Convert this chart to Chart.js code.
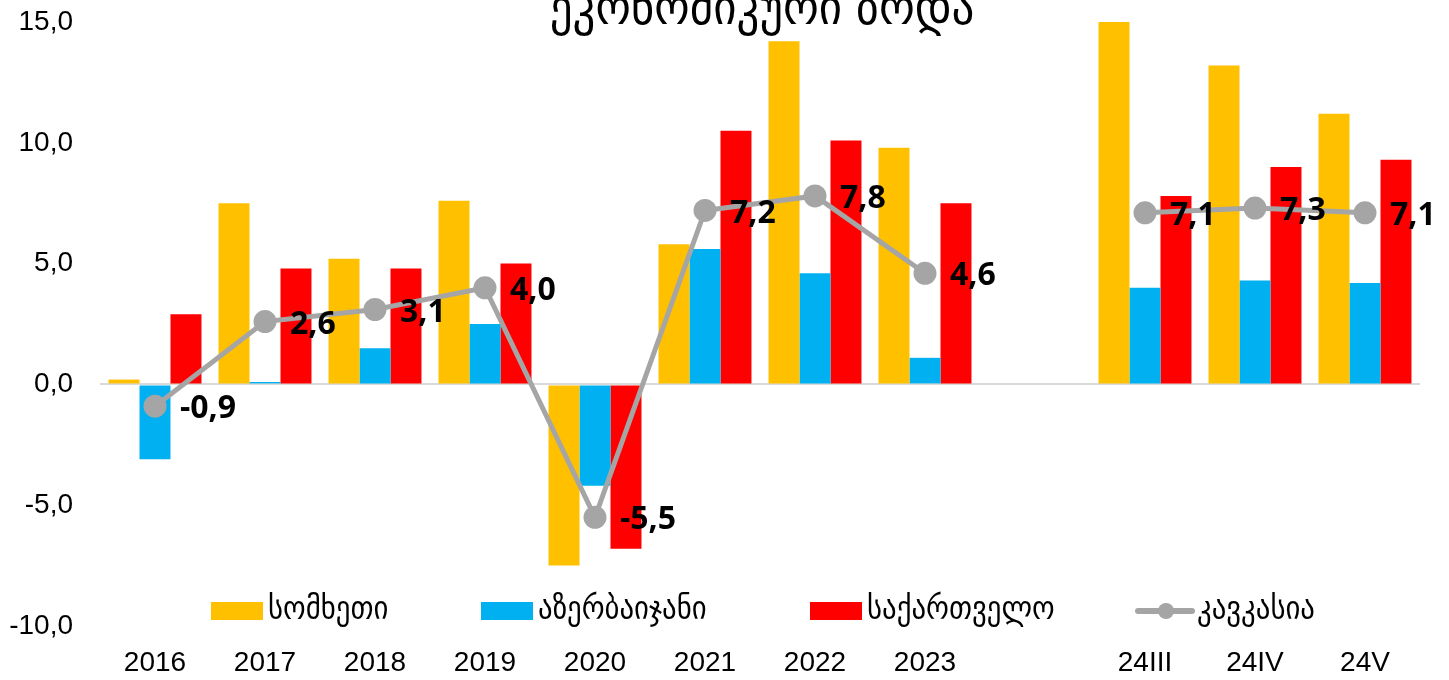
<!DOCTYPE html>
<html>
<head>
<meta charset="utf-8">
<script src="https://cdn.jsdelivr.net/npm/chart.js@4.4.1/dist/chart.umd.min.js"></script>
<style>
  html, body { margin: 0; padding: 0; background: #fff; }
  #wrap { width: 1449px; height: 680px; position: relative; }
</style>
</head>
<body>
<div id="wrap"><canvas id="growthChart"></canvas></div>
<script>
// categories (empty one is the gap between years and 2024 months)
const categories = ['2016', '2017', '2018', '2019', '2020', '2021', '2022', '2023', '', '24III', '24IV', '24V'];

// series values, %
const armenia    = [0.2, 7.5, 5.2, 7.6, -7.5, 5.8, 14.2, 9.8, null, 15.0, 13.2, 11.2];
const azerbaijan = [-3.1, 0.1, 1.5, 2.5, -4.2, 5.6, 4.6, 1.1, null, 4.0, 4.3, 4.2];
const georgia    = [2.9, 4.8, 4.8, 5.0, -6.8, 10.5, 10.1, 7.5, null, 7.8, 9.0, 9.3];
const caucasus   = [-0.9, 2.6, 3.1, 4.0, -5.5, 7.2, 7.8, 4.6, null, 7.1, 7.3, 7.1];

const seriesNames = ['სომხეთი', 'აზერბაიჯანი', 'საქართველო', 'კავკასია'];
const titleText = 'ეკონომიკური ზრდა';

const yMin = -10, yMax = 15, yStep = 5;

function fmt(v) {
    return v.toFixed(1).replace('.', ',');
}

document.addEventListener("DOMContentLoaded", function () {

    // title sits partly above the canvas, as in the original
    const titlePlugin = {
        id: 'cutTitle',
        afterDraw(chart) {
            const c = chart.ctx;
            c.save();
            c.font = '50px "DejaVu Sans Condensed"';
            c.fillStyle = '#000';
            c.textAlign = 'center';
            c.textBaseline = 'alphabetic';
            c.fillText(titleText, 762, 24);
            c.restore();
        }
    };

    // value labels to the right of the caucasus points
    const labelPlugin = {
        id: 'pointLabels',
        afterDatasetsDraw(chart) {
            const c = chart.ctx;
            const meta = chart.getDatasetMeta(3);
            c.save();
            c.font = 'bold 32px "Open Sans"';
            c.fillStyle = '#000';
            c.textAlign = 'left';
            c.textBaseline = 'middle';
            meta.data.forEach((pt, i) => {
                const v = caucasus[i];
                if (v === null) return;
                c.fillText(fmt(v), pt.x + 25, pt.y + 3);
            });
            c.restore();
        }
    };

    // legend drawn inside the bottom of the plot
    const legendPlugin = {
        id: 'innerLegend',
        afterDraw(chart) {
            const c = chart.ctx;
            const y = 611;
            const starts = [211, 481, 810, 1138];
            c.save();
            c.font = '32px "DejaVu Sans Condensed"';
            c.textBaseline = 'middle';
            c.textAlign = 'left';
            chart.data.datasets.forEach((ds, i) => {
                const x = starts[i];
                if (ds.type === 'line') {
                    c.strokeStyle = ds.borderColor;
                    c.lineWidth = 6;
                    c.lineCap = 'round';
                    c.beginPath();
                    c.moveTo(x, y);
                    c.lineTo(x + 54, y);
                    c.stroke();
                    c.fillStyle = ds.borderColor;
                    c.beginPath();
                    c.arc(x + 28, y, 8, 0, Math.PI * 2);
                    c.fill();
                    c.fillStyle = '#000';
                    c.fillText(ds.label, x + 59, y);
                } else {
                    c.fillStyle = ds.backgroundColor;
                    c.fillRect(x, y - 9, 52, 18);
                    c.fillStyle = '#000';
                    c.fillText(ds.label, x + 57, y);
                }
            });
            c.restore();
        }
    };

    const ctx = document.getElementById('growthChart').getContext('2d');

    new Chart(ctx, {
        data: {
            labels: categories,
            datasets: [
                { type: 'bar', label: seriesNames[0], data: armenia, backgroundColor: '#FFC000', order: 1 },
                { type: 'bar', label: seriesNames[1], data: azerbaijan, backgroundColor: '#00B0F0', order: 1 },
                { type: 'bar', label: seriesNames[2], data: georgia, backgroundColor: '#FF0000', order: 1 },
                {
                    type: 'line', label: seriesNames[3], data: caucasus,
                    borderColor: '#A5A5A5', backgroundColor: '#A5A5A5',
                    borderWidth: 5, pointRadius: 9, pointHoverRadius: 9,
                    tension: 0, spanGaps: false, order: 0
                }
            ]
        },
        options: {
            responsive: true,
            maintainAspectRatio: false,
            animation: false,
            layout: { padding: { top: 22, right: 29, bottom: 0, left: 0 } },
            datasets: {
                bar: { categoryPercentage: 0.845, barPercentage: 1.0 }
            },
            plugins: {
                legend: { display: false },
                title: { display: false },
                tooltip: { enabled: false }
            },
            scales: {
                x: {
                    grid: { display: false, drawTicks: false },
                    border: { display: false },
                    ticks: {
                        color: '#000',
                        font: { family: '"Liberation Sans"', size: 28 },
                        padding: 20,
                        maxRotation: 0,
                        autoSkip: false
                    },
                    afterFit(scale) { scale.height = 54; }
                },
                y: {
                    min: yMin,
                    max: yMax,
                    grid: {
                        drawTicks: false,
                        lineWidth: 2,
                        color: (c) => (c.tick && c.tick.value === 0 ? '#D9D9D9' : 'rgba(0,0,0,0)')
                    },
                    border: { display: false },
                    ticks: {
                        stepSize: yStep,
                        color: '#000',
                        font: { family: '"Liberation Sans"', size: 28 },
                        padding: 27,
                        callback: (v) => fmt(v)
                    },
                    afterFit(scale) {
                        scale.width = 100;
                        scale.paddingTop = 0;
                        scale.paddingBottom = 0;
                    }
                }
            }
        },
        plugins: [titlePlugin, labelPlugin, legendPlugin]
    });
});
</script>
</body>
</html>
